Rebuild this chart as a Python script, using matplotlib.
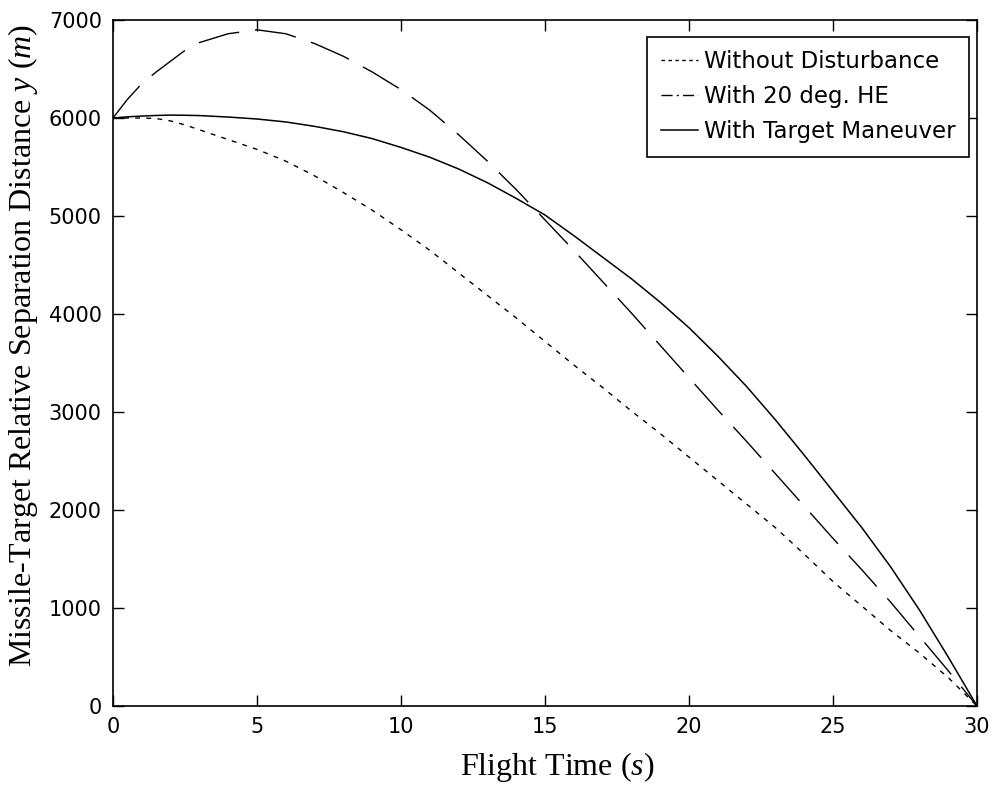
import matplotlib
matplotlib.use("Agg")
import matplotlib.pyplot as plt

plt.rcParams["mathtext.fontset"] = "custom"
plt.rcParams["mathtext.it"] = "Liberation Serif:italic"
plt.rcParams["mathtext.rm"] = "Liberation Serif"

# flight time (s)
t = [0, 0.5, 1, 1.5, 2, 2.5, 3, 4, 5, 6, 7, 8, 9, 10, 11, 12, 13, 14, 15,
     16, 17, 18, 19, 20, 21, 22, 23, 24, 25, 26, 27, 28, 29, 30]

# separation distance y (m)
y_nodist = [6000, 6000, 6000, 5995, 5970, 5930, 5880, 5780, 5680, 5560, 5410,
            5240, 5060, 4860, 4650, 4420, 4190, 3960, 3720, 3480, 3250, 3010,
            2780, 2540, 2300, 2060, 1820, 1550, 1270, 1020, 770, 540, 290, 0]
y_he = [6000, 6190, 6350, 6470, 6580, 6690, 6770, 6860, 6900, 6860, 6760,
        6630, 6470, 6290, 6080, 5830, 5560, 5270, 4960, 4650, 4330, 4010,
        3680, 3350, 3020, 2700, 2370, 2040, 1710, 1390, 1060, 710, 360, 0]
y_tm = [6000, 6012, 6020, 6026, 6030, 6028, 6025, 6010, 5990, 5960, 5915,
        5860, 5790, 5700, 5600, 5480, 5340, 5180, 5010, 4800, 4580, 4360,
        4120, 3860, 3570, 3260, 2920, 2560, 2190, 1820, 1420, 980, 500, 0]

labels = ["Without Disturbance", "With 20 deg. HE", "With Target Maneuver"]

fig = plt.figure(figsize=(9.98, 7.85), dpi=100)
ax = fig.add_axes([0.1132, 0.1006, 0.8658, 0.8739])

ax.plot(t, y_nodist, color="black", lw=1.0, dashes=(3.5, 4.5), label=labels[0])
ax.plot(t, y_he, color="black", lw=1.0, dashes=(30, 11.5), label=labels[1])
ax.plot(t, y_tm, color="black", lw=1.1, linestyle="-", label=labels[2])

ax.set_xlim(0, 30)
ax.set_ylim(0, 7000)
ax.set_xticks(range(0, 31, 5))
ax.set_yticks(range(0, 7001, 1000))

ax.tick_params(direction="in", length=8, width=1, top=True, right=True,
               labelsize=15, pad=8)
for lab in ax.get_xticklabels() + ax.get_yticklabels():
    lab.set_family("DejaVu Sans")
for sp in ax.spines.values():
    sp.set_linewidth(1.2)

ax.set_xlabel(r"Flight Time ($\it{s}$)", fontsize=23, family="Liberation Serif")
ax.set_ylabel(r"Missile-Target Relative Separation Distance $\it{y}$ ($\it{m}$)",
              fontsize=23, family="Liberation Serif")
ax.xaxis.set_label_coords(0.514, -0.064)
ax.yaxis.set_label_coords(-0.0845, 0.525)

leg = ax.legend(loc="upper right", bbox_to_anchor=(0.9907, 0.9758),
                prop={"family": "DejaVu Sans", "size": 16.5},
                fancybox=False, framealpha=1, edgecolor="black",
                handlelength=1.6, handletextpad=0.25, borderpad=0.6,
                labelspacing=0.52, borderaxespad=0)
leg.get_frame().set_linewidth(1.2)
# legend samples drawn in matlab style: dotted and dash-dot
leg.get_lines()[0].set_dashes((2.5, 2.5))
leg.get_lines()[1].set_dashes((8, 3, 1.5, 3))

fig.savefig("out.png", dpi=100)
